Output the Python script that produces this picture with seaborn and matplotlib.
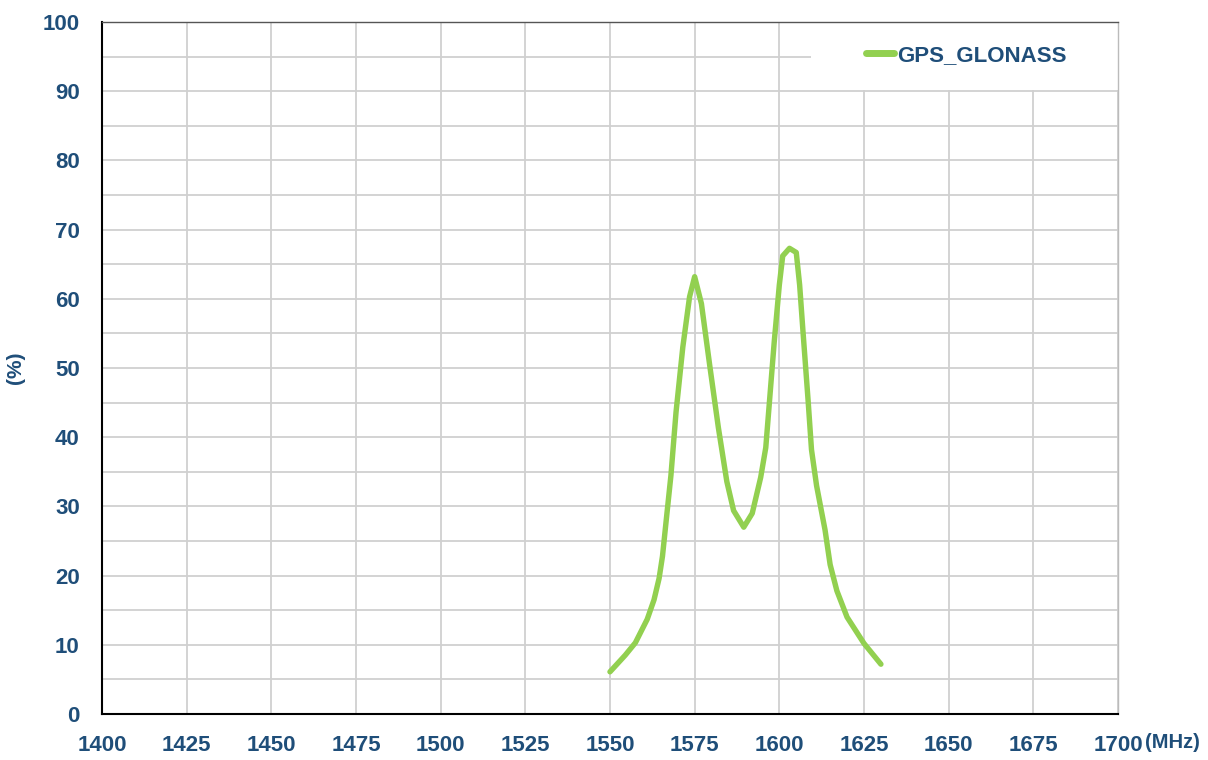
import matplotlib

matplotlib.use("Agg")
import matplotlib.pyplot as plt
import pandas as pd
import seaborn as sns
from matplotlib.patches import Rectangle
from matplotlib.ticker import MultipleLocator

# frequency (MHz) and efficiency (%)
freq_mhz = [1550, 1554.5, 1557.5, 1561, 1563, 1564.5, 1565.5, 1566.5, 1568,
            1569.5, 1571.5, 1573.5, 1575, 1577, 1579.5, 1582, 1584.5, 1586.5,
            1589.5, 1592, 1594.5, 1596, 1597, 1598.5, 1600, 1601, 1603,
            1605, 1606, 1607, 1608.5, 1609.5, 1611, 1613.5, 1615, 1617,
            1620, 1625, 1630]
efficiency = [6.1, 8.5, 10.3, 13.7, 16.5, 19.6, 22.8, 27.5, 34.5,
              43.6, 53.0, 60.3, 63.2, 59.3, 50.2, 41.4, 33.6, 29.4,
              27.0, 29.0, 34.2, 38.5, 44.6, 53.8, 62.0, 66.2, 67.3,
              66.7, 62.0, 55.2, 45.3, 38.2, 33.0, 26.6, 21.6, 17.8,
              14.0, 10.2, 7.2]
series_name = "GPS_GLONASS"
x_ticks = list(range(1400, 1701, 25))
y_ticks = list(range(0, 101, 10))

TEXT = "#1f4e79"
GREEN = "#92d050"
FONT = ["Liberation Sans Narrow", "Liberation Sans", "DejaVu Sans"]

sns.set_theme(style="white")
plt.rcParams["font.family"] = FONT
plt.rcParams["font.weight"] = "bold"

df = pd.DataFrame({"freq": freq_mhz, "eff": efficiency, "series": series_name})

fig = plt.figure(figsize=(12.08, 7.6), dpi=100)
ax = fig.add_axes([0.0844, 0.0605, 0.8411, 0.9105])

sns.lineplot(data=df, x="freq", y="eff", hue="series", palette=[GREEN],
             linewidth=3.9, ax=ax, solid_capstyle="round",
             solid_joinstyle="round", legend=True)

ax.set_xlim(1400, 1700)
ax.set_ylim(0, 100)
ax.set_xticks(x_ticks)
ax.set_yticks(y_ticks)
ax.yaxis.set_minor_locator(MultipleLocator(5))
ax.grid(which="both", color="#d0d0d0", linewidth=1.3)
ax.set_axisbelow(True)

ax.tick_params(axis="both", which="major", direction="in", length=4,
               width=1.2, color="black", labelsize=16, labelcolor=TEXT)
ax.tick_params(axis="x", pad=15)
ax.tick_params(axis="y", pad=16)
ax.tick_params(axis="both", which="minor", length=0)
for lbl in ax.get_xticklabels() + ax.get_yticklabels():
    lbl.set_fontweight("bold")

for side in ("left", "bottom"):
    ax.spines[side].set_color("black")
    ax.spines[side].set_linewidth(1.5)
ax.spines["top"].set_color("#555555")
ax.spines["top"].set_linewidth(1.0)
ax.spines["right"].set_color("#bbbbbb")
ax.spines["right"].set_linewidth(1.0)

ax.set_xlabel("")
ax.set_ylabel("(%)", fontsize=15, fontweight="bold", color=TEXT)
ax.yaxis.set_label_coords(-0.0758, 0.5)

ax.text(1.054, -0.041, "(MHz)", transform=ax.transAxes, ha="center",
        va="center", fontsize=14.5, fontweight="bold", color=TEXT)

# white patch behind the legend (hides the grid there, as in the reference)
ax.add_patch(Rectangle((0.698, 0.902), 0.302, 0.097, transform=ax.transAxes,
                       facecolor="white", edgecolor="none", zorder=1.5))

leg = ax.legend(loc="center left", bbox_to_anchor=(0.752, 0.952),
                frameon=False, fontsize=16, handlelength=1.25,
                handletextpad=0.15, borderpad=0, borderaxespad=0)
for t in leg.get_texts():
    t.set_color(TEXT)
    t.set_fontweight("bold")
for h in leg.get_lines():
    h.set_linewidth(5)
    h.set_solid_capstyle("round")

fig.savefig("out.png", dpi=100)
